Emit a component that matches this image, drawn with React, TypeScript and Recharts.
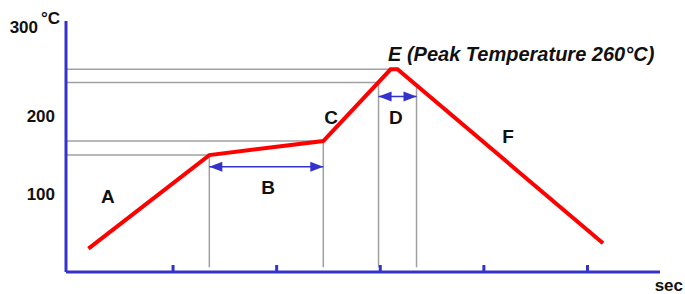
import {
  LineChart, Line, XAxis, YAxis, ReferenceLine, ReferenceDot,
} from "recharts";

// reflow profile, time in seconds, temp in degC
const profileTime = [11, 81, 147, 186, 190, 309];
const profileTemp = [30, 150, 168, 260, 260, 37];

const xTicks = [60, 120, 180, 240, 300];
const yTicks = [100, 200];

// gray guide lines
const hGuideTemp = [260, 243, 168, 150];
const hGuideEnd = [186, 179, 147, 81];
const vGuideTime = [81, 147, 179, 201];
const vGuideTop = [150, 168, 243, 240];

// dimension arrows
const arrowFrom = [81, 179];
const arrowTo = [147, 201];
const arrowTemp = [135, 225];

// zone letters
const zoneLabels = ["A", "B", "C", "D", "F"];
const zoneTime = [22.3, 115, 151.5, 189, 254];
const zoneTemp = [97.5, 109, 199, 199, 174.5];

const peakLabel = "E (Peak Temperature 260°C)";

const BLUE = "#3333cc";
const GRAY = "#a0a0a0";
const FONT = "'Liberation Sans', Arial, Helvetica, sans-serif";

const data = profileTime.map((t, i) => ({ t, temp: profileTemp[i] }));

function YTick({ x, y, payload }: any) {
  return (
    <text x={x - 11} y={y + 6} textAnchor="end" fontSize={17} fontWeight="bold"
      fontFamily={FONT} fill="#111">
      {payload.value}
    </text>
  );
}

function XTick({ x, y }: any) {
  return <line x1={x} x2={x} y1={y - 7} y2={y} stroke={BLUE} strokeWidth={3} />;
}

function Head({ cx, cy, dir }: any) {
  const len = 13;
  const half = 5;
  const tip = cx;
  const base = cx - dir * len;
  return (
    <polygon points={`${tip},${cy} ${base},${cy - half} ${base},${cy + half}`} fill={BLUE} />
  );
}

function Word({ cx, cy, text, size, italic, anchor }: any) {
  return (
    <text x={cx} y={cy + size * 0.36} textAnchor={anchor ?? "middle"} fontSize={size}
      fontWeight="bold" fontStyle={italic ? "italic" : "normal"} fontFamily={FONT} fill="#111">
      {text}
    </text>
  );
}

export default function App() {
  return (
    <div style={{ position: "absolute", left: 0, top: 0, background: "#fff" }}>
      <LineChart width={685} height={294} data={data}
        margin={{ top: 21, right: 25, bottom: 0, left: 6 }}>
        <XAxis
          dataKey="t" type="number" domain={[-2, 342]} ticks={xTicks}
          allowDataOverflow height={22}
          axisLine={{ stroke: BLUE, strokeWidth: 3 }}
          tickLine={false} tickSize={0} tickMargin={0}
          tick={<XTick />}
          label={{
            content: ({ viewBox }: any) => (
              <text x={viewBox.x + viewBox.width + 23} y={viewBox.y + 19} textAnchor="end"
                fontSize={17} fontWeight="bold" fontFamily={FONT} fill="#111">sec</text>
            ),
          }}
        />
        <YAxis
          type="number" domain={[0, 322]} ticks={yTicks} allowDataOverflow width={60}
          axisLine={{ stroke: BLUE, strokeWidth: 3 }}
          tickLine={false} tickSize={0} tickMargin={0}
          tick={<YTick />}
          label={{
            content: ({ viewBox }: any) => (
              <g fontWeight="bold" fontFamily={FONT} fill="#111">
                <text x={viewBox.x + viewBox.width - 28} y={viewBox.y + 12} textAnchor="end"
                  fontSize={17}>300</text>
                <text x={viewBox.x + viewBox.width - 25} y={viewBox.y + 3} textAnchor="start"
                  fontSize={17}>°C</text>
              </g>
            ),
          }}
        />

        {hGuideTemp.map((v, i) => (
          <ReferenceLine key={`h${i}`} segment={[{ x: -2, y: v }, { x: hGuideEnd[i], y: v }]}
            stroke={GRAY} strokeWidth={1.5} />
        ))}
        {vGuideTime.map((v, i) => (
          <ReferenceLine key={`v${i}`} segment={[{ x: v, y: 6 }, { x: v, y: vGuideTop[i] }]}
            stroke={GRAY} strokeWidth={1.5} />
        ))}

        {arrowFrom.map((a, i) => (
          <ReferenceLine key={`a${i}`} segment={[{ x: a, y: arrowTemp[i] }, { x: arrowTo[i], y: arrowTemp[i] }]}
            stroke={BLUE} strokeWidth={1.5} />
        ))}
        {arrowFrom.map((a, i) => (
          <ReferenceDot key={`al${i}`} x={a} y={arrowTemp[i]} r={0}
            shape={(p: any) => <Head cx={p.cx} cy={p.cy} dir={-1} />} />
        ))}
        {arrowTo.map((a, i) => (
          <ReferenceDot key={`ar${i}`} x={a} y={arrowTemp[i]} r={0}
            shape={(p: any) => <Head cx={p.cx} cy={p.cy} dir={1} />} />
        ))}

        {zoneLabels.map((z, i) => (
          <ReferenceDot key={`z${i}`} x={zoneTime[i]} y={zoneTemp[i]} r={0}
            shape={(p: any) => <Word cx={p.cx} cy={p.cy} text={z} size={19} />} />
        ))}
        <ReferenceDot x={184.5} y={279.7} r={0}
          shape={(p: any) => <Word cx={p.cx} cy={p.cy} text={peakLabel} size={20} italic anchor="start" />} />

        <Line type="linear" dataKey="temp" stroke="#ff0000" strokeWidth={4}
          dot={false} activeDot={false} isAnimationActive={false} />
      </LineChart>
    </div>
  );
}
